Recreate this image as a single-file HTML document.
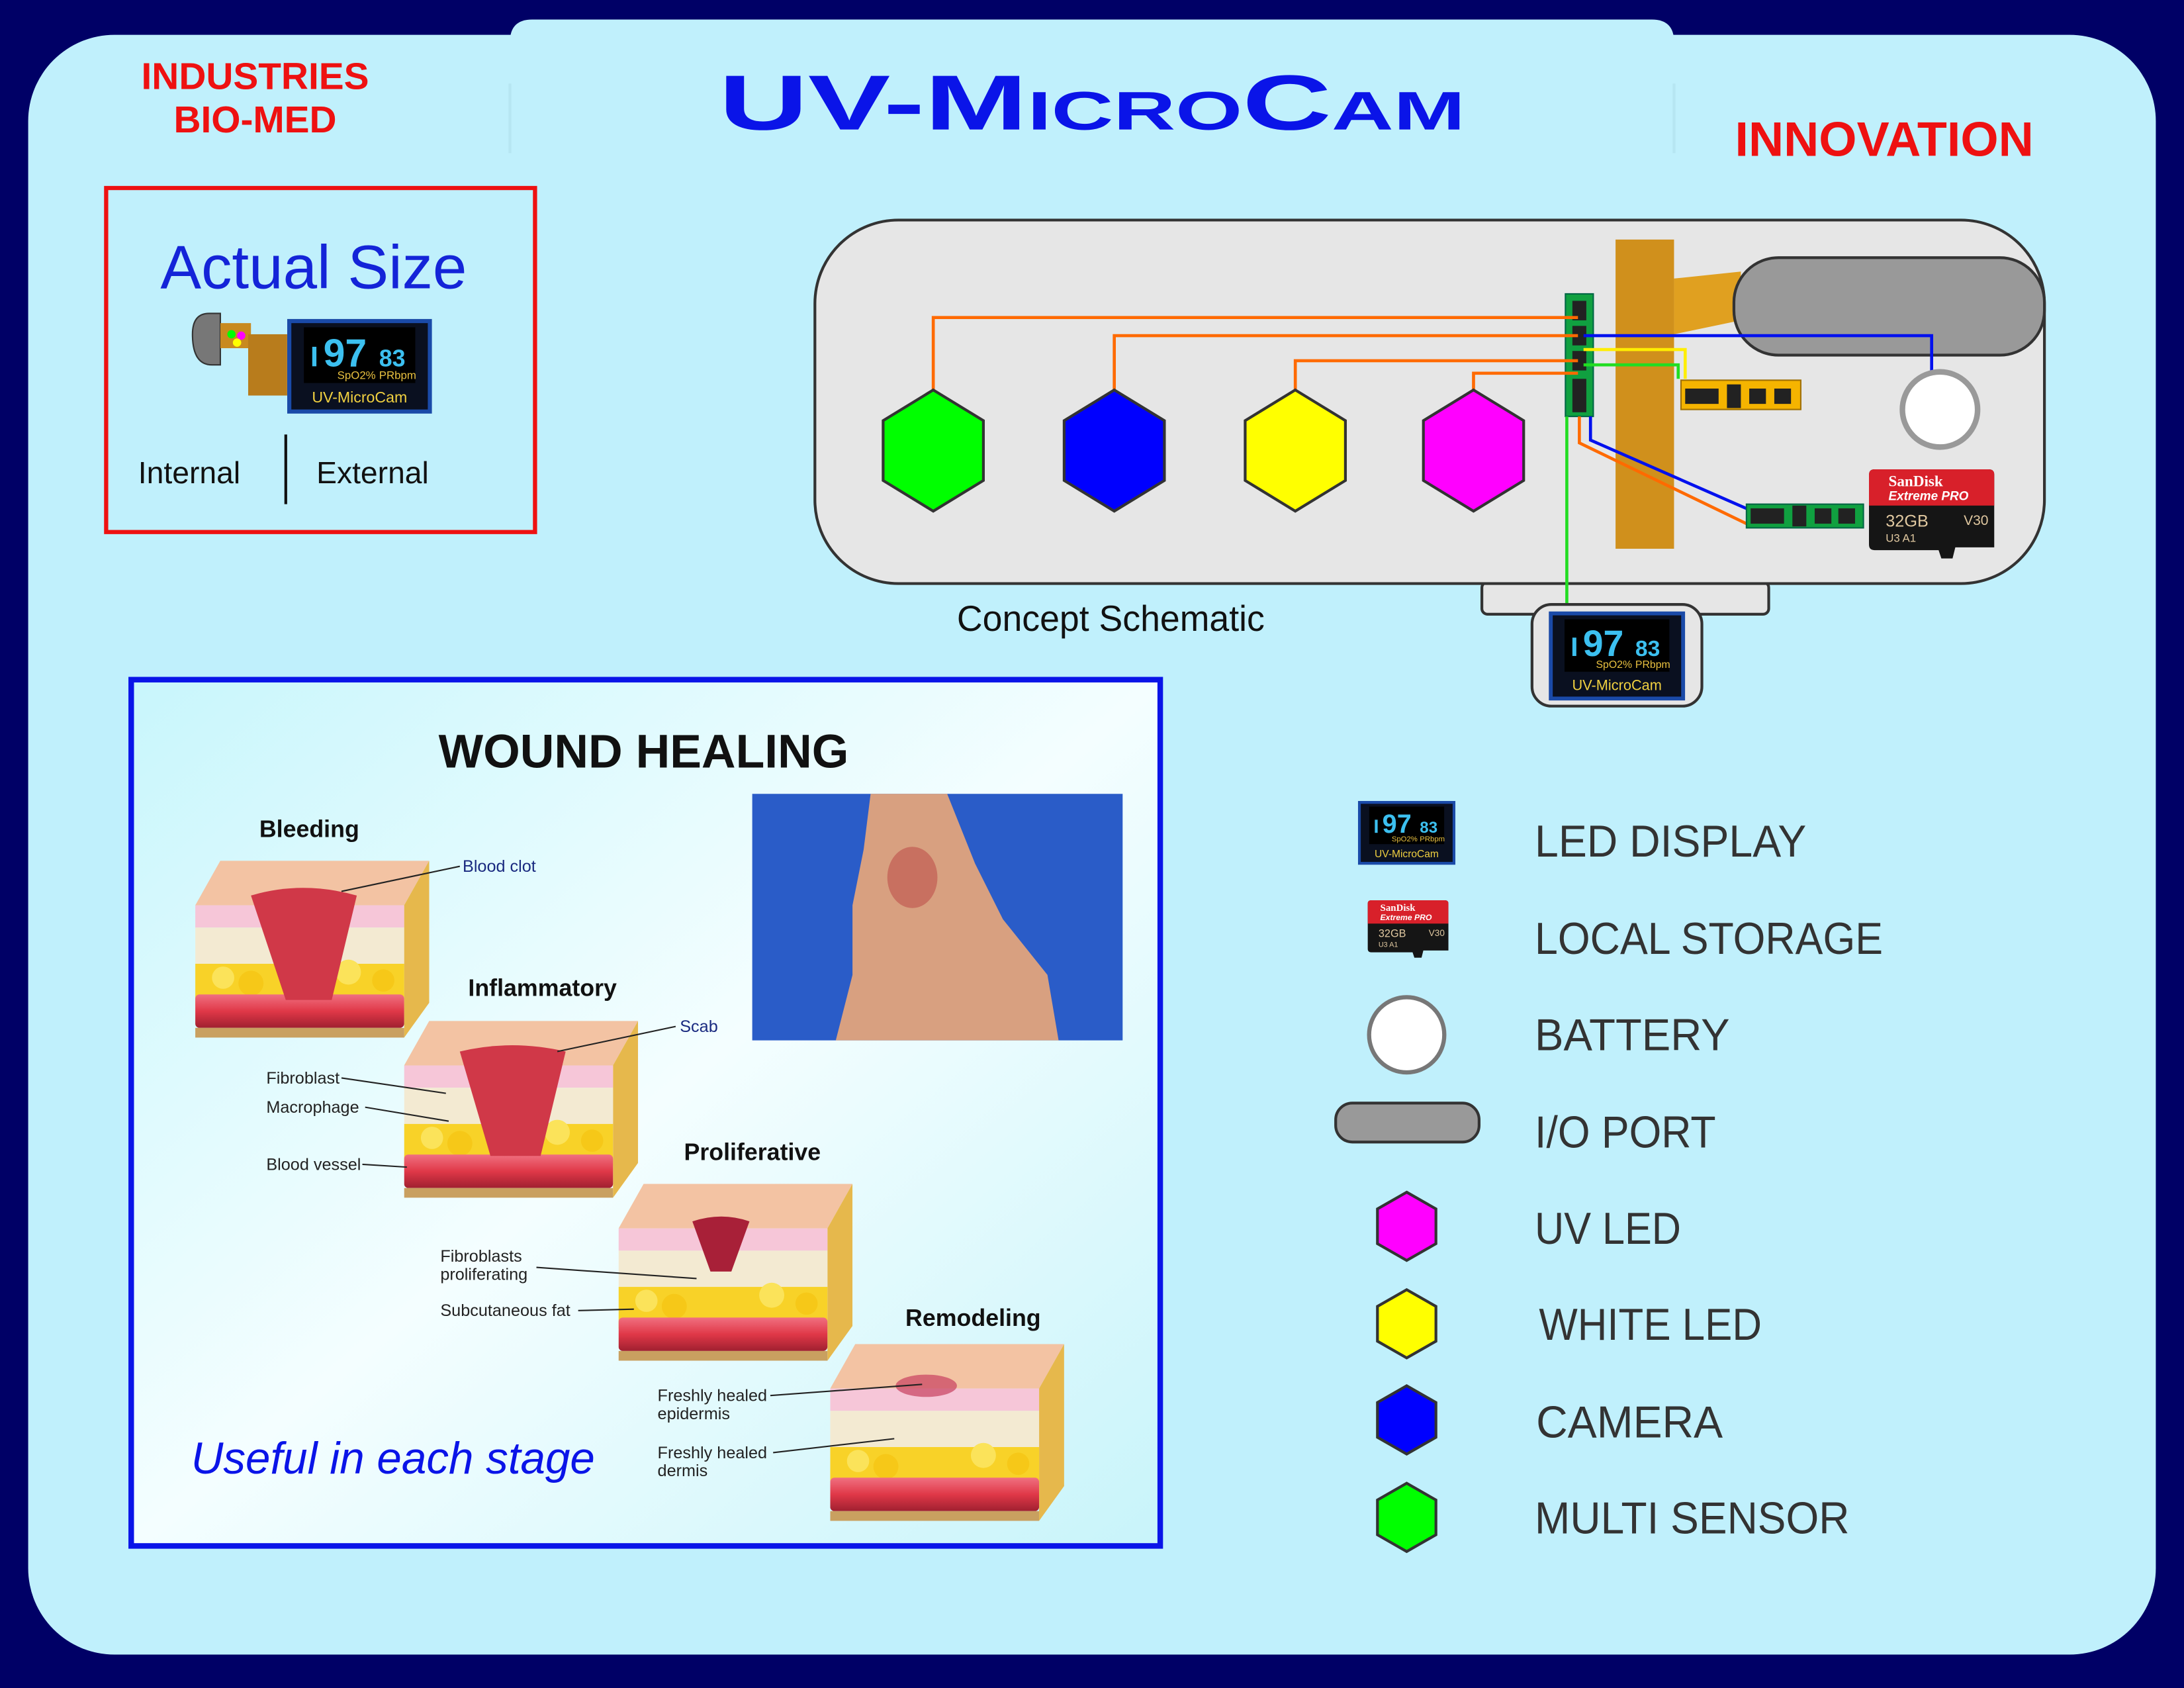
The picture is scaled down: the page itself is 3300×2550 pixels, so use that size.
<!DOCTYPE html>
<html><head><meta charset="utf-8"><style>html,body{margin:0;padding:0;background:#000066;}svg{display:block}</style></head>
<body>
<svg width="3300" height="2550" viewBox="0 0 1568 1212" xmlns="http://www.w3.org/2000/svg" font-family="Liberation Sans, sans-serif">
<defs>
<linearGradient id="wg" x1="0" y1="0" x2="1" y2="1"><stop offset="0" stop-color="#c8f6fc"/><stop offset="0.5" stop-color="#f4feff"/><stop offset="1" stop-color="#c8f4fa"/></linearGradient>
<linearGradient id="vs" x1="0" y1="0" x2="0" y2="1"><stop offset="0" stop-color="#f07080"/><stop offset="0.5" stop-color="#e03848"/><stop offset="1" stop-color="#a02030"/></linearGradient>
<symbol id="blk" viewBox="0 0 168 127" width="168" height="127">
<polygon points="0,32 18,0 168,0 150,32" fill="#f3c3a3"/>
<polygon points="150,32 168,0 168,102 150,127" fill="#e6b84c"/>
<rect x="0" y="32" width="150" height="16" fill="#f6c6d8"/>
<rect x="0" y="48" width="150" height="26" fill="#f3ead2"/>
<rect x="0" y="74" width="150" height="30" fill="#f8d228"/>
<circle cx="20" cy="84" r="8" fill="#fbe35a"/><circle cx="40" cy="88" r="9" fill="#f6c818"/><circle cx="110" cy="80" r="9" fill="#fbe35a"/><circle cx="135" cy="86" r="8" fill="#f6c818"/>
<rect x="0" y="96" width="150" height="24" rx="3" fill="url(#vs)"/>
<rect x="0" y="120" width="150" height="7" fill="#c9a060"/>
</symbol>
<symbol id="disp" viewBox="0 0 104 68" width="104" height="68">
<rect width="104" height="68" fill="#1a4aa8"/><rect x="3" y="3" width="98" height="62" fill="#0a1020"/>
<rect x="12" y="6" width="80" height="40" fill="#000"/>
<text x="26" y="34" font-size="28" fill="#3cc0f0" font-weight="bold">97</text><text x="66" y="34" font-size="17" fill="#3cc0f0" font-weight="bold">83</text>
<rect x="18" y="20" width="3" height="14" fill="#3cc0f0"/>
<text x="36" y="43" font-size="8" fill="#e8c040">SpO2%</text><text x="66" y="43" font-size="8" fill="#e8c040">PRbpm</text>
<text x="52" y="60" font-size="11" fill="#f0d040" text-anchor="middle">UV-MicroCam</text>
</symbol>
<symbol id="sd" viewBox="0 0 90 64" width="90" height="64">
<path d="M0,4 Q0,0 4,0 L86,0 Q90,0 90,4 L90,56 L62,56 L60,64 L52,64 L50,58 L4,58 Q0,58 0,54 Z" fill="#151515"/>
<path d="M0,4 Q0,0 4,0 L86,0 Q90,0 90,4 L90,26 L0,26 Z" fill="#d8202a"/>
<text x="14" y="12" font-size="11" fill="#fff" font-family="Liberation Serif, serif" font-weight="bold">SanDisk</text>
<text x="14" y="22" font-size="9" fill="#fff" font-style="italic" font-weight="bold">Extreme PRO</text>
<text x="12" y="41" font-size="12" fill="#e0c8a0">32GB</text><text x="68" y="40" font-size="10" fill="#e0c8a0">V30</text>
<text x="12" y="52" font-size="8" fill="#e0c8a0">U3 A1</text>
</symbol>
</defs>
<rect width="1568" height="1212" fill="#000066"/>
<rect x="20" y="25" width="1528" height="1163" rx="62" fill="#c0f0fc"/>
<path d="M366,1000 L366,30 Q366,14 382,14 L1186,14 Q1202,14 1202,30 L1202,1000 Z" fill="#c0f0fc"/>
<line x1="366" y1="60" x2="366" y2="110" stroke="#b0e0ec" stroke-width="2" opacity="0.6"/>
<line x1="1202" y1="60" x2="1202" y2="110" stroke="#b0e0ec" stroke-width="2" opacity="0.6"/>
<text x="183" y="64" font-size="27" font-weight="bold" fill="#ee1111" text-anchor="middle">INDUSTRIES</text>
<text x="183" y="95" font-size="27" font-weight="bold" fill="#ee1111" text-anchor="middle">BIO-MED</text>
<text x="516" y="93" font-size="56" font-weight="bold" fill="#0a14e8" textLength="536" lengthAdjust="spacingAndGlyphs" style="font-variant:small-caps">UV-MicroCam</text>
<text x="1353" y="112" font-size="35" font-weight="bold" fill="#ee1111" text-anchor="middle">INNOVATION</text>

<rect x="76" y="135" width="308" height="247" fill="none" stroke="#ee1111" stroke-width="3"/>
<text x="225" y="207" font-size="44" fill="#1424d8" text-anchor="middle">Actual Size</text>
<path d="M150,225 Q138,225 138,240 Q138,262 152,262 L158,262 L158,225 Z" fill="#777" stroke="#333"/>
<rect x="158" y="232" width="22" height="18" fill="#c88a20"/><rect x="178" y="240" width="28" height="44" fill="#b87c1c"/>
<circle cx="166" cy="240" r="3" fill="#0f0"/><circle cx="173" cy="241" r="3" fill="#f0f"/><circle cx="170" cy="246" r="3" fill="#ff0"/>
<use href="#disp" x="206" y="229" width="104" height="68"/>
<text x="99" y="347" font-size="22" fill="#111">Internal</text>
<line x1="205" y1="312" x2="205" y2="362" stroke="#111" stroke-width="2"/>
<text x="227" y="347" font-size="22" fill="#111">External</text>

<rect x="1064" y="418" width="206" height="23" rx="4" fill="#e6e6e6" stroke="#333" stroke-width="2"/>
<rect x="585" y="158" width="883" height="261" rx="60" fill="#e6e6e6" stroke="#333" stroke-width="2"/>
<rect x="1160" y="172" width="42" height="222" fill="#d0901c"/>
<polygon points="1202,200 1250,195 1250,230 1202,240" fill="#e0a020"/>
<rect x="1245" y="185" width="223" height="70" rx="32" fill="#999" stroke="#333" stroke-width="2"/>
<rect x="1124" y="211" width="20" height="88" fill="#10a040" stroke="#064" stroke-width="1"/>
<rect x="1129" y="216" width="10" height="14" fill="#222"/><rect x="1129" y="234" width="10" height="14" fill="#222"/><rect x="1129" y="252" width="10" height="14" fill="#222"/><rect x="1129" y="272" width="10" height="24" fill="#222"/>
<g fill="none" stroke-width="2.2">
<polyline points="670,280 670,228 1133,228" stroke="#ff6a00"/>
<polyline points="800,280 800,241 1133,241" stroke="#ff6a00"/>
<polyline points="930,280 930,259 1133,259" stroke="#ff6a00"/>
<polyline points="1058,280 1058,268 1133,268" stroke="#ff6a00"/>
<polyline points="1137,241 1387,241 1387,266" stroke="#0010ee"/>
<polyline points="1137,251 1210,251 1210,272" stroke="#ffee00"/>
<polyline points="1137,262 1205,262 1205,272" stroke="#22dd22"/>
<polyline points="1134,299 1134,318 1254,376" stroke="#ff6a00"/>
<polyline points="1142,299 1142,316 1256,366" stroke="#0010ee"/>
<polyline points="1125,299 1125,440" stroke="#22dd22"/>
</g>
<rect x="1207" y="273" width="86" height="21" fill="#f5b400" stroke="#a07000"/>
<rect x="1210" y="279" width="24" height="11" fill="#222"/><rect x="1240" y="276" width="10" height="17" fill="#222"/><rect x="1256" y="279" width="12" height="11" fill="#222"/><rect x="1274" y="279" width="12" height="11" fill="#222"/>
<rect x="1254" y="362" width="84" height="17" fill="#10a040" stroke="#064"/>
<rect x="1257" y="365" width="24" height="11" fill="#222"/><rect x="1287" y="363" width="10" height="15" fill="#222"/><rect x="1303" y="365" width="12" height="11" fill="#222"/><rect x="1320" y="365" width="12" height="11" fill="#222"/>
<use href="#sd" x="1342" y="337" width="90" height="64"/>
<circle cx="1393" cy="294" r="27" fill="#fff" stroke="#999" stroke-width="4"/>
<g stroke="#333" stroke-width="2">
<polygon points="670,280 706,302 706,345 670,367 634,345 634,302" fill="#00ff00"/>
<polygon points="800,280 836,302 836,345 800,367 764,345 764,302" fill="#0000ff"/>
<polygon points="930,280 966,302 966,345 930,367 894,345 894,302" fill="#ffff00"/>
<polygon points="1058,280 1094,302 1094,345 1058,367 1022,345 1022,302" fill="#ff00ff"/>
</g>
<rect x="1100" y="434" width="122" height="73" rx="14" fill="#e6e6e6" stroke="#333" stroke-width="2"/>
<use href="#disp" x="1112" y="439" width="98" height="64"/>
<text x="687" y="453" font-size="26" fill="#111" textLength="221" lengthAdjust="spacingAndGlyphs">Concept Schematic</text>

<rect x="94" y="488" width="739" height="622" fill="url(#wg)" stroke="#0a14e8" stroke-width="4"/>
<text x="462" y="551" font-size="34" font-weight="bold" fill="#111" text-anchor="middle">WOUND HEALING</text>
<rect x="540" y="570" width="266" height="177" fill="#2a5cc8"/>
<path d="M625,570 L680,570 L700,620 L720,660 L752,700 L760,747 L600,747 L612,700 L612,650 L620,610 Z" fill="#d8a080"/>
<ellipse cx="655" cy="630" rx="18" ry="22" fill="#c87060"/>
<use href="#blk" x="140" y="618"/>
<path d="M180,643 Q217,632 256,643 L238,718 L205,718 Z" fill="#d03848"/>
<use href="#blk" x="290" y="733"/>
<path d="M330,755 Q367,746 406,755 L388,830 L352,830 Z" fill="#d03848"/>
<use href="#blk" x="444" y="850"/>
<path d="M497,877 Q518,870 538,877 L525,913 L510,913 Z" fill="#a82038"/>
<use href="#blk" x="596" y="965"/>
<ellipse cx="665" cy="995" rx="22" ry="8" fill="#c84060" opacity="0.7"/>
<g font-size="12" fill="#222">
<text x="186" y="601" font-size="17" font-weight="bold" fill="#111">Bleeding</text>
<text x="332" y="626" fill="#1a2a80">Blood clot</text>
<text x="336" y="715" font-size="17" font-weight="bold" fill="#111">Inflammatory</text>
<text x="488" y="741" fill="#1a2a80">Scab</text>
<text x="191" y="778">Fibroblast</text><text x="191" y="799">Macrophage</text><text x="191" y="840">Blood vessel</text>
<text x="491" y="833" font-size="17" font-weight="bold" fill="#111">Proliferative</text>
<text x="316" y="906">Fibroblasts</text><text x="316" y="919">proliferating</text><text x="316" y="945">Subcutaneous fat</text>
<text x="650" y="952" font-size="17" font-weight="bold" fill="#111">Remodeling</text>
<text x="472" y="1006">Freshly healed</text><text x="472" y="1019">epidermis</text>
<text x="472" y="1047">Freshly healed</text><text x="472" y="1060">dermis</text>
</g>
<g stroke="#222" stroke-width="1" fill="none">
<line x1="330" y1="622" x2="245" y2="640"/><line x1="485" y1="737" x2="400" y2="755"/>
<line x1="245" y1="774" x2="320" y2="785"/><line x1="262" y1="795" x2="322" y2="805"/><line x1="260" y1="836" x2="292" y2="838"/>
<line x1="385" y1="910" x2="500" y2="918"/><line x1="415" y1="941" x2="455" y2="940"/>
<line x1="553" y1="1002" x2="662" y2="994"/><line x1="555" y1="1043" x2="642" y2="1033"/>
</g>
<text x="137" y="1058" font-size="32" fill="#0a14e8" font-style="italic" textLength="290" lengthAdjust="spacingAndGlyphs">Useful in each stage</text>

<use href="#disp" x="975" y="575" width="70" height="46"/>
<use href="#sd" x="982" y="646" width="58" height="42"/>
<circle cx="1010" cy="743" r="27" fill="#fff" stroke="#777" stroke-width="3"/>
<rect x="959" y="792" width="103" height="28" rx="12" fill="#999" stroke="#333" stroke-width="2"/>
<g stroke="#333" stroke-width="2">
<polygon points="1010,856 1031,868 1031,893 1010,905 989,893 989,868" fill="#ff00ff"/>
<polygon points="1010,926 1031,938 1031,963 1010,975 989,963 989,938" fill="#ffff00"/>
<polygon points="1010,995 1031,1007 1031,1032 1010,1044 989,1032 989,1007" fill="#0000ff"/>
<polygon points="1010,1065 1031,1077 1031,1102 1010,1114 989,1102 989,1077" fill="#00ff00"/>
</g>
<g font-size="32" fill="#333" lengthAdjust="spacingAndGlyphs">
<text x="1102" y="615" textLength="195" lengthAdjust="spacingAndGlyphs">LED DISPLAY</text>
<text x="1102" y="685" textLength="250" lengthAdjust="spacingAndGlyphs">LOCAL STORAGE</text>
<text x="1102" y="754" textLength="140" lengthAdjust="spacingAndGlyphs">BATTERY</text>
<text x="1102" y="824" textLength="130" lengthAdjust="spacingAndGlyphs">I/O PORT</text>
<text x="1102" y="893" textLength="105" lengthAdjust="spacingAndGlyphs">UV LED</text>
<text x="1105" y="962" textLength="160" lengthAdjust="spacingAndGlyphs">WHITE LED</text>
<text x="1103" y="1032" textLength="134" lengthAdjust="spacingAndGlyphs">CAMERA</text>
<text x="1102" y="1101" textLength="226" lengthAdjust="spacingAndGlyphs">MULTI SENSOR</text>
</g>
</svg>
</body></html>
